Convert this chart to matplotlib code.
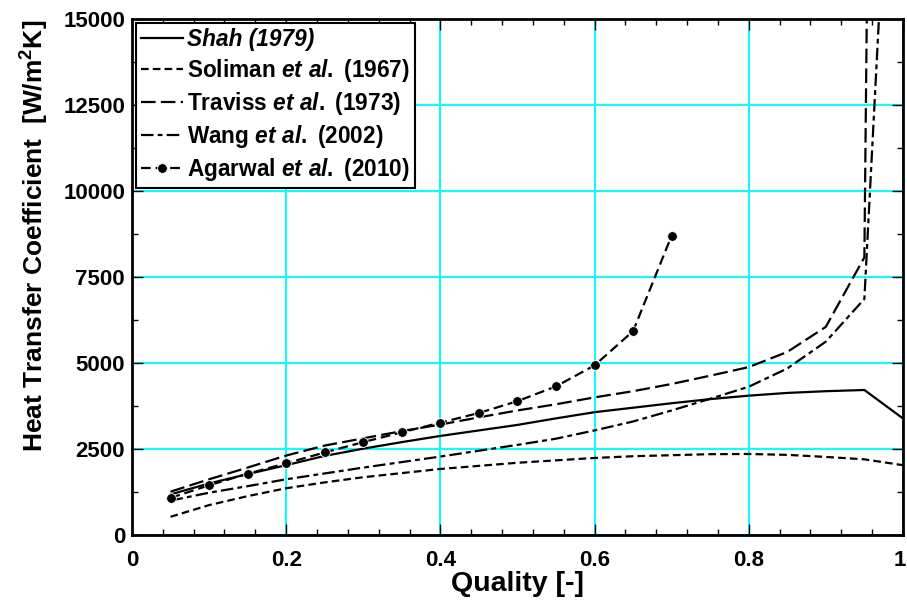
import matplotlib
matplotlib.use("Agg")
import matplotlib.pyplot as plt
from matplotlib.transforms import ScaledTranslation

plt.rcParams['font.family'] = ['Liberation Sans', 'DejaVu Sans']
plt.rcParams['font.weight'] = 'bold'
plt.rcParams['mathtext.fontset'] = 'custom'
plt.rcParams['mathtext.rm'] = 'Liberation Sans:bold'
plt.rcParams['mathtext.bf'] = 'Liberation Sans:bold'
plt.rcParams['mathtext.it'] = 'Liberation Sans:italic:bold'
plt.rcParams['lines.scale_dashes'] = False

# Vapour quality
quality = [0.05, 0.10, 0.15, 0.20, 0.25, 0.30, 0.35, 0.40, 0.45, 0.50,
           0.55, 0.60, 0.65, 0.70, 0.75, 0.80, 0.85, 0.90, 0.95, 1.00]
quality_agarwal = [0.05, 0.10, 0.15, 0.20, 0.25, 0.30, 0.35,
                   0.40, 0.45, 0.50, 0.55, 0.60, 0.65, 0.70]

# Heat transfer coefficient predictions [W/m2K]
h_shah = [1180, 1500, 1770, 2030, 2300, 2510, 2700, 2880, 3040, 3200,
          3390, 3570, 3700, 3830, 3950, 4050, 4130, 4180, 4215, 3390]
h_soliman = [530, 870, 1130, 1360, 1530, 1680, 1800, 1920, 2010, 2100,
             2170, 2240, 2290, 2320, 2350, 2355, 2330, 2270, 2200, 2030]
h_traviss = [1260, 1620, 1960, 2310, 2600, 2810, 3020, 3210, 3420, 3620,
             3800, 4000, 4180, 4390, 4630, 4880, 5320, 6050, 8070, 120000]
h_wang = [1000, 1230, 1420, 1620, 1790, 1960, 2120, 2280, 2450, 2620,
          2800, 3040, 3300, 3620, 3960, 4310, 4840, 5620, 6860, 28400]
h_agarwal = [1080, 1445, 1780, 2085, 2400, 2700, 2985, 3265, 3547, 3890,
             4320, 4930, 5925, 8700]

fig = plt.figure(figsize=(9.07, 6.08), dpi=100)
ax = fig.add_axes([0.1455, 0.120, 0.850, 0.849])

lw = 1.6
ax.plot(quality, h_shah, color='black', lw=lw, label='Shah (1979)')
ax.plot(quality, h_soliman, color='black', lw=lw, dashes=(5.5, 3.0),
        label=r'Soliman $\mathit{et\ al.}$ (1967)')
ax.plot(quality, h_traviss, color='black', lw=lw, dashes=(10.5, 3.8),
        label=r'Traviss $\mathit{et\ al.}$ (1973)')
ax.plot(quality, h_wang, color='black', lw=lw, dashes=(9, 3, 3.5, 3),
        label=r'Wang $\mathit{et\ al.}$ (2002)')
ax.plot(quality_agarwal, h_agarwal, color='black', lw=lw, dashes=(7, 3.5),
        marker='o', markersize=7, markerfacecolor='black',
        markeredgecolor='white', markeredgewidth=0.6,
        label=r'Agarwal $\mathit{et\ al.}$ (2010)')

ax.set_xlim(0, 1)
ax.set_ylim(0, 15000)
ax.set_xticks([0, 0.2, 0.4, 0.6, 0.8, 1.0])
ax.set_xticklabels(['0', '0.2', '0.4', '0.6', '0.8', '1'])
ax.set_yticks([0, 2500, 5000, 7500, 10000, 12500, 15000])
ax.set_xticks([i * 0.04 for i in range(26)], minor=True)
ax.set_yticks([i * 1250 for i in range(13)], minor=True)

ax.grid(True, which='major', color='#00ffff', lw=1.4)
ax.set_axisbelow(True)

ax.tick_params(which='both', direction='in', top=True, right=True,
               labelsize=16, width=1.0, color='black')
ax.tick_params(which='major', length=8)
ax.tick_params(which='minor', length=4.5)
ax.tick_params(axis='x', which='major', pad=11)
ax.tick_params(axis='y', which='major', pad=5)
for lab in ax.get_xticklabels() + ax.get_yticklabels():
    lab.set_fontweight('bold')

# keep the last x tick label inside the figure edge
last = ax.xaxis.get_major_ticks()[-1].label1
last.set_transform(last.get_transform() +
                   ScaledTranslation(-3.5 / 100, 0, fig.dpi_scale_trans))

for sp in ax.spines.values():
    sp.set_linewidth(2.0)

ax.set_xlabel('Quality [-]', fontsize=20.5, fontweight='bold', labelpad=0)
ax.set_ylabel(r'Heat Transfer Coefficient  [W/m$^{2}$K]', fontsize=19,
              fontweight='bold')
ax.yaxis.set_label_coords(-0.105, 0.58)

leg = ax.legend(loc='upper left', fontsize=16.3, handlelength=1.85,
                handletextpad=0.15, borderaxespad=0.2, borderpad=0.22,
                labelspacing=0.26, fancybox=False, framealpha=1,
                edgecolor='black')
leg.get_frame().set_linewidth(1.5)
for t in leg.get_texts():
    t.set_fontweight('bold')
leg.get_texts()[0].set_fontstyle('italic')

fig.savefig('out.png', dpi=100)
